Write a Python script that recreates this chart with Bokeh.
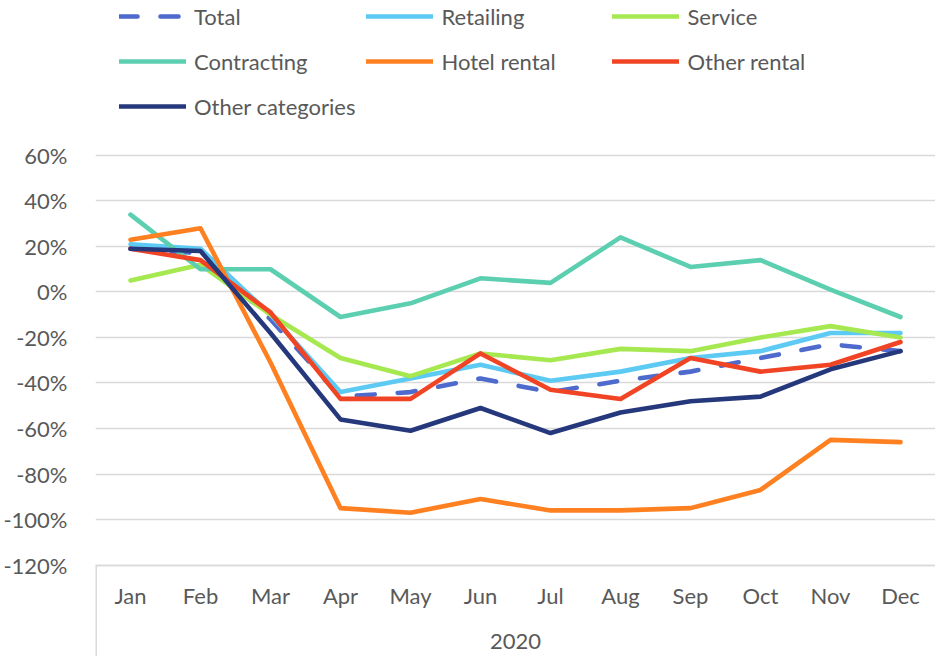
from bokeh.plotting import figure
from bokeh.models import (Range1d, FactorRange, FixedTicker, PrintfTickFormatter,
                          Legend, LegendItem)
from bokeh.embed import file_html
from bokeh.resources import INLINE

months = ["Jan", "Feb", "Mar", "Apr", "May", "Jun", "Jul", "Aug", "Sep", "Oct", "Nov", "Dec"]
year_label = "2020"

total = [19, 17, -12, -46, -44, -38, -44, -39, -35, -29, -23, -26]
retailing = [21, 19, -10, -44, -38, -32, -39, -35, -29, -26, -18, -18]
service = [5, 12, -10, -29, -37, -27, -30, -25, -26, -20, -15, -20]
contracting = [34, 10, 10, -11, -5, 6, 4, 24, 11, 14, 1, -11]
hotel_rental = [23, 28, -31, -95, -97, -91, -96, -96, -95, -87, -65, -66]
other_rental = [19, 14, -9, -47, -47, -27, -43, -47, -29, -35, -32, -22]
other_categories = [19, 18, -18, -56, -61, -51, -62, -53, -48, -46, -34, -26]

y_ticks = [-120, -100, -80, -60, -40, -20, 0, 20, 40, 60]

series = [
    ("Total", total, "#4E6ACC", "18 23"),
    ("Retailing", retailing, "#5DCAF3", "solid"),
    ("Service", service, "#A6E850", "solid"),
    ("Contracting", contracting, "#5CCFB0", "solid"),
    ("Hotel rental", hotel_rental, "#FF8020", "solid"),
    ("Other rental", other_rental, "#F04424", "solid"),
    ("Other categories", other_categories, "#26387C", "solid"),
]

FONT = "Lato"
TXT = "#595959"
GRID = "#D9D9D9"
AXIS_MIN = y_ticks[0]
FRAME_BOTTOM = -160.2   # lower end of the frame (category label area)
FRAME_TOP = 128.1       # upper end of the frame (legend area)

p = figure(width=935, height=656,
           x_range=FactorRange(factors=months, range_padding=0),
           y_range=Range1d(FRAME_BOTTOM, FRAME_TOP),
           output_backend="svg", toolbar_location=None,
           min_border_left=92, min_border_right=0,
           min_border_top=0, min_border_bottom=0)
p.outline_line_color = None
p.background_fill_color = "white"
p.border_fill_color = "white"

p.xgrid.grid_line_color = None
p.ygrid.grid_line_color = GRID
p.ygrid.grid_line_width = 1.5

p.yaxis.ticker = FixedTicker(ticks=y_ticks)
p.yaxis.formatter = PrintfTickFormatter(format="%d%%")
p.yaxis.axis_line_color = None
p.yaxis.major_tick_line_color = None
p.yaxis.minor_tick_line_color = None
p.yaxis.major_label_standoff = 22
p.yaxis.major_label_text_font = FONT
p.yaxis.major_label_text_font_size = "22px"
p.yaxis.major_label_text_color = TXT

p.xaxis.fixed_location = AXIS_MIN
p.xaxis.axis_line_color = GRID
p.xaxis.axis_line_width = 1.5
p.xaxis.major_tick_line_color = None
p.xaxis.minor_tick_line_color = None
p.xaxis.major_label_standoff = 11
p.xaxis.major_label_text_font = FONT
p.xaxis.major_label_text_font_size = "22px"
p.xaxis.major_label_text_color = TXT
p.xaxis.axis_label = year_label
p.xaxis.axis_label_standoff = 21
p.xaxis.axis_label_text_font = FONT
p.xaxis.axis_label_text_font_size = "22px"
p.xaxis.axis_label_text_font_style = "normal"
p.xaxis.axis_label_text_color = TXT

# left boundary line of the category label area
p.segment(x0=[0], y0=[AXIS_MIN], x1=[0], y1=[FRAME_BOTTOM],
          line_color=GRID, line_width=3)

items = []
for name, vals, color, dash in series:
    r = p.line(x=months, y=vals, line_color=color, line_width=4.6,
               line_dash=dash, line_cap="round", line_join="round")
    items.append(LegendItem(label=name, renderers=[r]))

legend = Legend(items=items, orientation="horizontal", ncols=3, location=(24, 533),
                glyph_width=67, glyph_height=34, label_height=34,
                label_width=160, spacing=11, label_standoff=8,
                padding=0, margin=0, border_line_color=None,
                background_fill_alpha=0,
                label_text_font=FONT, label_text_font_size="22px",
                label_text_color=TXT)
p.add_layout(legend)

open("out.html", "w").write(file_html(p, INLINE))
